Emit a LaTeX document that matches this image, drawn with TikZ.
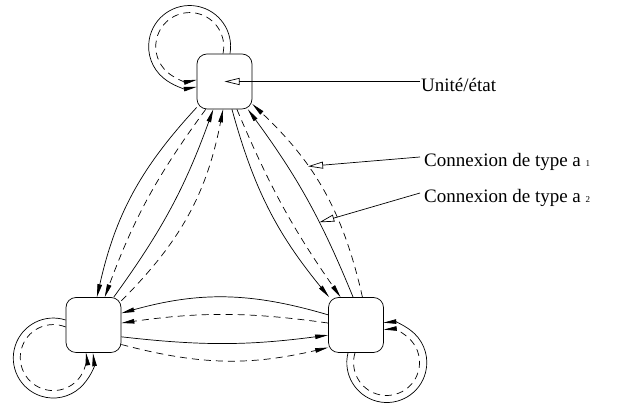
\documentclass[tikz,border=0pt]{standalone}
\usepackage{fontspec}
\setmainfont{Liberation Serif}
\usetikzlibrary{arrows.meta}

\tikzset{
  unite/.style={draw, rounded corners=10pt, minimum width=55pt, minimum height=55pt, inner sep=0pt, line width=0.7pt},
  cnx/.style={line width=0.7pt, -{Triangle[length=13pt,width=4.5pt]}},
  cnxd/.style={cnx, dash pattern=on 7pt off 5pt},
  legende/.style={font=\fontsize{19}{22}\selectfont, inner sep=0pt, anchor=base west},
  fleche/.style={line width=0.7pt, -{Triangle[open,length=15pt,width=7pt]}}
}

\begin{document}
\begin{tikzpicture}[x=1pt,y=1pt]

        \useasboundingbox (0,0) rectangle (619,403);

        \node[unite] (haut) at (224.5,321.5) {};
        \node[unite] (gauche) at (93.5,78) {};
        \node[unite] (droite) at (356,78) {};

        % haut <-> gauche
        \draw[cnx] (haut.223) to[bend right=15] (gauche.83);
        \draw[cnxd] (haut.236) to[bend right=8] (gauche.68);
        \draw[cnx] (gauche.54) to[bend right=8] (haut.248);
        \draw[cnxd] (gauche.41) to[bend right=17] (haut.267);

        % haut <-> droite
        \draw[cnx] (haut.285) to[bend right=12] (droite.134);
        \draw[cnxd] (haut.294) to[bend right=6] (droite.119);
        \draw[cnx] (droite.96) to[bend right=7] coordinate[pos=0.37] (a2) (haut.310);
        \draw[cnxd] (droite.77) to[bend right=17] coordinate[pos=0.64] (a1) (haut.321);

        % gauche <-> droite
        \draw[cnx] (droite.160) to[bend right=16] (gauche.23);
        \draw[cnxd] (droite.176) to[bend right=8] (gauche.4);
        \draw[cnx] (gauche.337) to[bend right=7] (droite.200);
        \draw[cnxd] (gauche.325) to[bend right=14] (droite.219);

        % boucles
        \draw[cnx] ([xshift=5.5pt]haut.north) arc[start angle=-10, end angle=280, radius=41];
        \draw[cnxd] ([xshift=-1.5pt]haut.north) arc[start angle=-12, end angle=282, radius=34];
        \draw[cnx] ([yshift=5pt]gauche.west) arc[start angle=72, end angle=367, radius=40];
        \draw[cnxd] ([yshift=-2pt]gauche.west) arc[start angle=68, end angle=369, radius=33];
        \draw[cnx] ([xshift=-8pt]droite.south) arc[start angle=166, end angle=455, radius=40];
        \draw[cnxd] ([xshift=-1pt]droite.south) arc[start angle=163, end angle=455, radius=33];

        % legendes
        \node[legende] (lunite) at (421,311) {Unité/état};
        \node[legende] (lcnx1) at (424,236) {Connexion de type a {\fontsize{9}{9}\selectfont 1}};
        \node[legende] (lcnx2) at (424,200) {Connexion de type a {\fontsize{9}{9}\selectfont 2}};

        \draw[fleche] ([xshift=-1pt,yshift=10.5pt]lunite.base west) -- (haut.center);
        \draw[fleche] ([xshift=-4pt,yshift=10pt]lcnx1.base west) -- (a1);
        \draw[fleche] ([xshift=-4pt,yshift=10pt]lcnx2.base west) -- (a2);

\end{tikzpicture}
\end{document}
